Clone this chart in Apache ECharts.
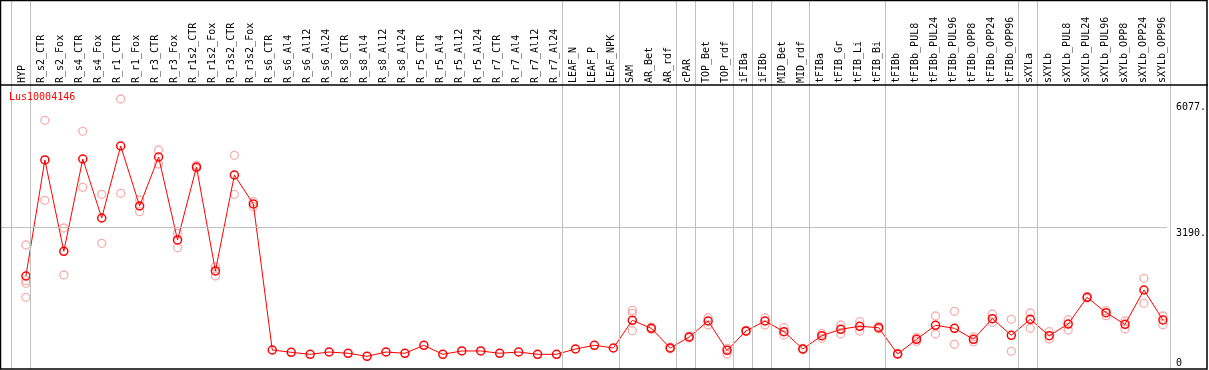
<!DOCTYPE html>
<html>
<head>
<meta charset="utf-8">
<script src="https://cdn.jsdelivr.net/npm/echarts@6.0.0/dist/echarts.min.js"></script>
<style>
  html, body { margin: 0; padding: 0; background: #fff; }
  #expr-chart { width: 1209px; height: 370px; }
</style>
</head>
<body>
<div id="expr-chart"></div>
<script>
// sample names, left to right
var samples = ['HYP',
  'R_s2_CTR', 'R_s2_Fox', 'R_s4_CTR', 'R_s4_Fox', 'R_r1_CTR', 'R_r1_Fox', 'R_r3_CTR', 'R_r3_Fox',
  'R_r1s2_CTR', 'R_r1s2_Fox', 'R_r3s2_CTR', 'R_r3s2_Fox',
  'R_s6_CTR', 'R_s6_Al4', 'R_s6_Al12', 'R_s6_Al24', 'R_s8_CTR', 'R_s8_Al4', 'R_s8_Al12', 'R_s8_Al24',
  'R_r5_CTR', 'R_r5_Al4', 'R_r5_Al12', 'R_r5_Al24', 'R_r7_CTR', 'R_r7_Al4', 'R_r7_Al12', 'R_r7_Al24',
  'LEAF_N', 'LEAF_P', 'LEAF_NPK', 'SAM', 'AR_Bet', 'AR_rdf', 'cPAR', 'TOP_Bet', 'TOP_rdf',
  'iFIBa', 'iFIBb', 'MID_Bet', 'MID_rdf', 'tFIBa', 'tFIB_Gr', 'tFIB_Li', 'tFIB_Bi',
  'tFIBb', 'tFIBb_PUL8', 'tFIBb_PUL24', 'tFIBb_PUL96', 'tFIBb_OPP8', 'tFIBb_OPP24', 'tFIBb_OPP96',
  'sXYLa', 'sXYLb', 'sXYLb_PUL8', 'sXYLb_PUL24', 'sXYLb_PUL96', 'sXYLb_OPP8', 'sXYLb_OPP24', 'sXYLb_OPP96'];

// mean expression per sample
var meanValues = [2086,
  4702, 2643, 4724, 3394, 5017, 3664, 4769, 2898,
  4544, 2199, 4363, 3709,
  417, 365, 320, 372, 343, 275, 372, 343,
  523, 320, 395, 395, 343, 372, 320, 320,
  440, 523, 462, 1087, 906, 462, 710, 1071, 410,
  846, 1071, 830, 440, 740, 884, 952, 920,
  327, 658, 974, 906, 658, 1123, 749,
  1109, 740, 1003, 1606, 1259, 997, 1770, 1094];

// single replicates per sample (faint circles)
var replicates = [[2785, 1980, 1921, 1606],
  [5597, 3793], [3168, 2108], [5349, 4086], [3928, 2823], [6077, 3951], [3800, 3536], [4927, 4611], [3049, 2724],
  [4580, 4510], [2296, 2086], [4808, 3928], [3761, 3649],
  [], [], [], [], [], [], [], [],
  [], [], [], [], [], [], [], [],
  [], [], [], [1312, 1245, 852], [930, 880], [480, 445], [730, 690], [1146, 981], [455, 327],
  [860, 830], [1146, 981], [920, 755], [455, 425], [790, 681], [981, 778], [1055, 846], [950, 890],
  [340, 315], [704, 612], [1184, 778], [1290, 546], [712, 604], [1229, 1042], [1109, 388],
  [1252, 906], [830, 665], [1100, 868], [1620, 1590], [1303, 1191], [1071, 891], [2034, 1470], [1184, 988]];

// last sample index of each group (-1 = left edge)
var groupEnds = [-1, 0, 28, 31, 34, 35, 37, 38, 39, 41, 45, 52, 53, 60];

var yTicks = [0, 3190, 6077];
var yTickLabels = ['0', '3190.', '6077.'];
var geneId = 'Lus10004146';

var chart = echarts.init(document.getElementById('expr-chart'));

var mono = 'DejaVu Sans Mono';
var RED = '#ff0000';
var PINK = '#f29a9a';

// separator offset: lines sit a bit right of each sample point
var sepShift = 4 / 19;
var xMin = -25 / 19, xMax = 60 + sepShift;

var meanData = meanValues.map(function (v, i) { return [i, v]; });
var repData = [];
replicates.forEach(function (reps, i) {
  reps.forEach(function (v) { repData.push([i, v]); });
});

var option = {
  animation: false,
  backgroundColor: '#fff',
  title: {
    text: geneId,
    left: 9, top: 92, padding: 0,
    textStyle: { color: RED, fontFamily: mono, fontSize: 10, fontWeight: 'normal' }
  },
  grid: [
    { left: 1, right: 1209 - 1170.2, top: 99, bottom: 1.5 },   // data
    { left: 1, right: 1209 - 1170.2, top: 0, bottom: 1 },      // group separators
    { left: 22.5, right: 1209 - 1162.5, top: 85, bottom: 1 }   // sample labels
  ],
  xAxis: [
    { gridIndex: 0, type: 'value', min: xMin, max: xMax, show: false },
    { gridIndex: 1, type: 'value', min: xMin, max: xMax, show: false },
    {
      gridIndex: 2, type: 'category', position: 'top', boundaryGap: false, data: samples,
      axisLine: { show: false }, axisTick: { show: false },
      axisLabel: { interval: 0, rotate: 90, margin: 2, color: '#000', fontFamily: mono, fontSize: 10 }
    }
  ],
  yAxis: [
    {
      gridIndex: 0, type: 'value', min: 0, max: 6077, position: 'right',
      axisLine: { show: false }, axisTick: { show: false }, splitLine: { show: false },
      axisLabel: {
        customValues: yTicks, margin: 9, align: 'left', color: '#000', fontFamily: mono, fontSize: 10,
        formatter: function (v) {
          var k = yTicks.indexOf(v);
          return '{t' + k + '|' + yTickLabels[k] + '}';
        },
        rich: {
          t0: { padding: [0, 0, 11, 0] },
          t1: { padding: [13, 0, 0, 0] },
          t2: { padding: [17, 0, 0, 0] }
        }
      }
    },
    { gridIndex: 1, type: 'value', min: 0, max: 1, show: false },
    { gridIndex: 2, type: 'value', min: 0, max: 1, show: false }
  ],
  graphic: [
    { type: 'rect', shape: { x: 0.5, y: 0.5, width: 1206.5, height: 368.5 },
      style: { fill: 'none', stroke: '#000', lineWidth: 1.5 }, z: 100 },
    { type: 'line', shape: { x1: 0, y1: 85, x2: 1208, y2: 85 },
      style: { stroke: '#000', lineWidth: 1.5 }, z: 100 }
  ],
  series: [
    {
      type: 'line', xAxisIndex: 1, yAxisIndex: 1, data: [], silent: true,
      markLine: {
        silent: true, symbol: 'none', label: { show: false },
        lineStyle: { color: '#c0c0c0', width: 1, type: 'solid' },
        data: groupEnds.map(function (e) { return { xAxis: e + sepShift }; })
      }
    },
    {
      name: 'replicates', type: 'scatter', xAxisIndex: 0, yAxisIndex: 0, data: repData,
      symbol: 'circle', symbolSize: 8, clip: false,
      itemStyle: { color: 'rgba(0,0,0,0)', borderColor: PINK, borderWidth: 1.3 }
    },
    {
      name: geneId, type: 'line', xAxisIndex: 0, yAxisIndex: 0, data: meanData,
      symbol: 'circle', symbolSize: 8, showAllSymbol: true, clip: false,
      lineStyle: { color: RED, width: 1 },
      itemStyle: { color: 'rgba(0,0,0,0)', borderColor: RED, borderWidth: 1.5 },
      markLine: {
        silent: true, symbol: 'none', label: { show: false },
        lineStyle: { color: '#c0c0c0', width: 1, type: 'solid' },
        data: [{ yAxis: yTicks[1] }]
      }
    }
  ]
};

chart.setOption(option);
</script>
</body>
</html>
